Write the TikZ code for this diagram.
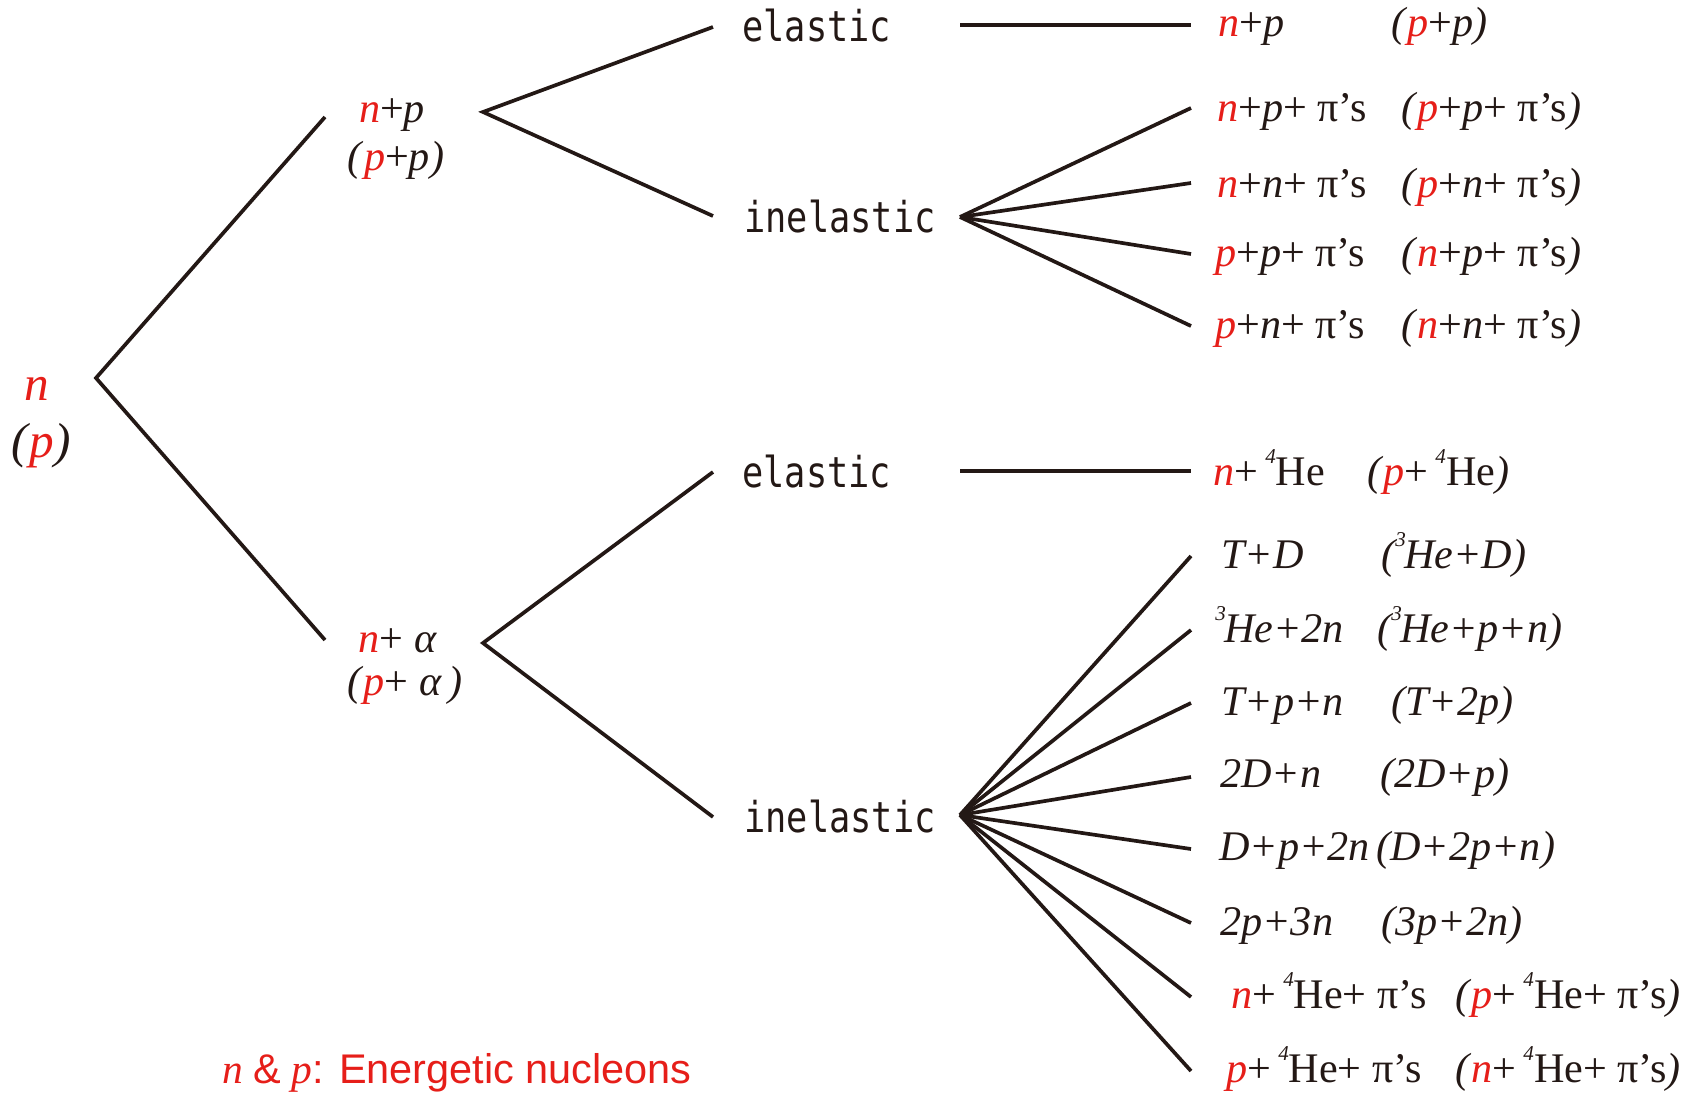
\documentclass[tikz,border=0pt]{standalone}
\usepackage{fontspec}
\setmainfont{Liberation Serif}
\newfontfamily\gothicfont[FakeStretch=0.83]{DejaVu Sans Mono}
\newfontfamily\legendfont{Liberation Sans}
\usetikzlibrary{positioning}
\definecolor{nucred}{RGB}{230,30,25}
\definecolor{inkblack}{RGB}{35,24,21}
\newcommand{\rn}{\textcolor{nucred}{\textit{n}}}
\newcommand{\rp}{\textcolor{nucred}{\textit{p}}}
\newcommand{\pis}{π’s}
\newcommand{\massno}[1]{\raisebox{12pt}{\fontsize{12}{12}\selectfont\itshape #1}}
\newcommand{\heiv}{\massno{4}He}
\newcommand{\heiii}{\massno{3}\kern-1pt He}

\begin{document}
\begin{tikzpicture}[
  x=0.02cm, y=-0.02cm,
  every node/.style={inner sep=0pt, text=inkblack},
  branch/.style={draw=inkblack, line width=2.1pt},
  lbl/.style={anchor=base, font=\fontsize{24}{28}\selectfont},
  rootlbl/.style={anchor=base, font=\fontsize{28}{32}\selectfont},
  kind/.style={anchor=base west, font=\gothicfont\fontsize{24.2}{28}\selectfont},
  prod/.style={anchor=base west, font=\fontsize{24}{28}\selectfont}
]
\useasboundingbox (0,0) rectangle (1700,1095);

% incoming nucleon
\node[rootlbl] (src)    at (37,400) {\rn};
\node[rootlbl] (srcalt) at (41,457) {\textit{(}\rp\textit{)}};

% targets
\node[lbl] (np)    at (392,123) {\rn+\textit{p}};
\node[lbl] (npalt) at (396,170) {\textit{(}\rp+\textit{p)}};
\node[lbl] (na)    at (398,652) {\rn+ \textit{α}};
\node[lbl] (naalt) at (405,695) {\textit{(}\rp+ \textit{α\,)}};

% reaction kinds
\node[kind] (elU) at (742,42)  {elastic};
\node[kind] (inU) at (744,232) {inelastic};
\node[kind] (elL) at (742,487) {elastic};
\node[kind] (inL) at (744,832) {inelastic};

% products, n+p
\node[prod] (pu1)  at (1218,37)  {\rn+\textit{p}};
\node[prod] (pu1a) at (1391,37)  {\textit{(}\rp+\textit{p)}};
\node[prod] (pu2)  at (1217,122) {\rn+\textit{p}+ \pis};
\node[prod] (pu2a) at (1401,122) {\textit{(}\rp+\textit{p}+ \pis\textit{)}};
\node[prod] (pu3)  at (1217,197) {\rn+\textit{n}+ \pis};
\node[prod] (pu3a) at (1401,197) {\textit{(}\rp+\textit{n}+ \pis\textit{)}};
\node[prod] (pu4)  at (1215,266) {\rp+\textit{p}+ \pis};
\node[prod] (pu4a) at (1401,266) {\textit{(}\rn+\textit{p}+ \pis\textit{)}};
\node[prod] (pu5)  at (1215,338) {\rp+\textit{n}+ \pis};
\node[prod] (pu5a) at (1401,338) {\textit{(}\rn+\textit{n}+ \pis\textit{)}};

% products, n+alpha
\node[prod] (pl0)  at (1213,485)  {\rn+\,\heiv};
\node[prod] (pl0a) at (1367,485)  {\textit{(}\rp+\,\heiv\textit{)}};
\node[prod] (pl1)  at (1221,568)  {\textit{T+D}};
\node[prod] (pl1a) at (1381,568)  {\textit{(\heiii+D)}};
\node[prod] (pl2)  at (1215,642)  {\textit{\heiii+2n}};
\node[prod] (pl2a) at (1377,642)  {\textit{(\heiii+p+n)}};
\node[prod] (pl3)  at (1221,715)  {\textit{T+p+n}};
\node[prod] (pl3a) at (1391,715)  {\textit{(T+2p)}};
\node[prod] (pl4)  at (1220,787)  {\textit{2D+n}};
\node[prod] (pl4a) at (1380,787)  {\textit{(2D+p)}};
\node[prod] (pl5)  at (1219,860)  {\textit{D+p+2n}};
\node[prod] (pl5a) at (1376,860)  {\textit{(D+2p+n)}};
\node[prod] (pl6)  at (1220,935)  {\textit{2p+3n}};
\node[prod] (pl6a) at (1381,935)  {\textit{(3p+2n)}};
\node[prod] (pl7)  at (1231,1008) {\rn+\,\heiv+ \pis};
\node[prod] (pl7a) at (1455,1008) {\textit{(}\rp+\,\heiv+ \pis\textit{)}};
\node[prod] (pl8)  at (1226,1082) {\rp+\,\heiv+ \pis};
\node[prod] (pl8a) at (1455,1082) {\textit{(}\rn+\,\heiv+ \pis\textit{)}};

% legend
\node[anchor=base west, text=nucred, font=\fontsize{23.6}{28}\selectfont] (legend) at (222,1083)
  {\textit{n} {\legendfont\&} \textit{p}{\legendfont: Energetic nucleons}};

% junctions
\coordinate (root) at (96,378);
\coordinate (upA)  at (325,117);
\coordinate (loA)  at (325,640);
\coordinate (upB)  at (483,112);
\coordinate (loB)  at (483,643);
\coordinate (upEl) at (713,27);
\coordinate (upIn) at (713,216);
\coordinate (loEl) at (713,472);
\coordinate (loIn) at (713,817);
\coordinate (fanU) at (960,217);
\coordinate (fanL) at (960,815);

% first split
\draw[branch] (upA) -- (root) -- (loA);
\draw[branch] (upEl) -- (upB) -- (upIn);
\draw[branch] (loEl) -- (loB) -- (loIn);

% elastic channels
\draw[branch] (960,25) coordinate (elUs) -- (1191,25) coordinate (elUe);
\draw[branch] (960,471) coordinate (elLs) -- (1191,471) coordinate (elLe);

% inelastic fans
\draw[branch] (fanU) -- (1191,108);
\draw[branch] (fanU) -- (1191,183);
\draw[branch] (fanU) -- (1191,254);
\draw[branch] (fanU) -- (1191,326);

\draw[branch] (fanL) -- (1191,556);
\draw[branch] (fanL) -- (1191,630);
\draw[branch] (fanL) -- (1191,703);
\draw[branch] (fanL) -- (1191,777);
\draw[branch] (fanL) -- (1191,849);
\draw[branch] (fanL) -- (1191,923);
\draw[branch] (fanL) -- (1191,997);
\draw[branch] (fanL) -- (1191,1071);

\end{tikzpicture}
\end{document}
